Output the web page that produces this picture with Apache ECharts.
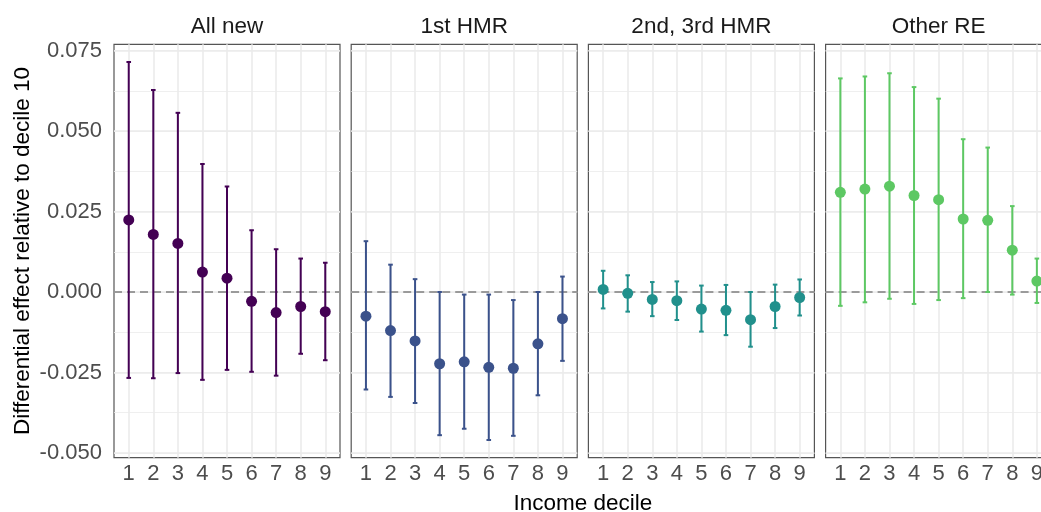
<!DOCTYPE html>
<html>
<head>
<meta charset="utf-8">
<script src="https://cdn.jsdelivr.net/npm/echarts@6/dist/echarts.min.js"></script>
<style>
html,body{margin:0;padding:0;background:#fff;}
#chart{width:1041px;height:512px;}
</style>
</head>
<body>
<div id="chart"></div>
<script>
const deciles = [1, 2, 3, 4, 5, 6, 7, 8, 9];
const panelNames = ['All new', '1st HMR', '2nd, 3rd HMR', 'Other RE'];
const panelColors = ['#440154', '#3B528B', '#21908C', '#5DC863'];

const allNewEst = [0.0224, 0.0179, 0.0151, 0.0062, 0.0043, -0.0029, -0.0064, -0.0045, -0.0061];
const allNewLo  = [-0.0267, -0.0268, -0.0252, -0.0273, -0.0242, -0.0248, -0.0260, -0.0192, -0.0212];
const allNewHi  = [0.0715, 0.0628, 0.0557, 0.0398, 0.0328, 0.0192, 0.0133, 0.0104, 0.0091];

const hmr1Est = [-0.0075, -0.0120, -0.0152, -0.0223, -0.0217, -0.0234, -0.0237, -0.0161, -0.0083];
const hmr1Lo  = [-0.0303, -0.0326, -0.0345, -0.0445, -0.0425, -0.0460, -0.0447, -0.0321, -0.0214];
const hmr1Hi  = [0.0158, 0.0085, 0.0040, 0.0000, -0.0008, -0.0008, -0.0025, 0.0000, 0.0048];

const hmr23Est = [0.0008, -0.0004, -0.0023, -0.0027, -0.0053, -0.0057, -0.0086, -0.0045, -0.0017];
const hmr23Lo  = [-0.0051, -0.0061, -0.0075, -0.0087, -0.0123, -0.0134, -0.0170, -0.0112, -0.0073];
const hmr23Hi  = [0.0066, 0.0052, 0.0031, 0.0033, 0.0020, 0.0022, 0.0000, 0.0023, 0.0039];

const otherEst = [0.0310, 0.0320, 0.0329, 0.0300, 0.0287, 0.0227, 0.0223, 0.0130, 0.0034];
const otherLo  = [-0.0043, -0.0032, -0.0021, -0.0037, -0.0025, -0.0019, 0.0000, -0.0008, -0.0034];
const otherHi  = [0.0664, 0.0670, 0.0680, 0.0637, 0.0601, 0.0475, 0.0449, 0.0267, 0.0104];

const yMajorStep = 0.025;
const yMinorStep = 0.0125;
const yTitle = 'Differential effect relative to decile 10';
const xTitle = 'Income decile';

const panelData = [
  [allNewEst, allNewLo, allNewHi],
  [hmr1Est, hmr1Lo, hmr1Hi],
  [hmr23Est, hmr23Lo, hmr23Hi],
  [otherEst, otherLo, otherHi]
];

const FONT = 'Liberation Sans, Arial, sans-serif';
const GRID_LEFT0 = 114, GRID_STEP = 237.2, GRID_W = 226, GRID_TOP = 44.3, GRID_H = 413.4;
const Y_MIN = -0.0515, Y_MAX = 0.0770;
const GRID_LINE = '#EBEBEB';

const grids = [], xAxes = [], yAxes = [], series = [], titles = [];

panelNames.forEach((name, i) => {
  const left = GRID_LEFT0 + i * GRID_STEP;
  grids.push({
    left: left, top: GRID_TOP, width: GRID_W, height: GRID_H,
    show: true, borderColor: '#555555', borderWidth: 1.2, backgroundColor: 'transparent',
    containLabel: false, outerBoundsMode: 'none'
  });
  xAxes.push({
    type: 'value', gridIndex: i, min: 0.4, max: 9.6,
    minInterval: 1, maxInterval: 1,
    axisLine: { show: false }, axisTick: { show: false },
    axisLabel: {
      show: true, showMinLabel: false, showMaxLabel: false,
      color: '#4D4D4D', fontFamily: FONT, fontSize: 22, margin: 5,
      formatter: v => String(Math.round(v))
    },
    splitLine: { show: true, showMinLine: false, showMaxLine: false, lineStyle: { color: GRID_LINE, width: 1.6 } }
  });
  yAxes.push({
    type: 'value', gridIndex: i, min: Y_MIN, max: Y_MAX,
    minInterval: yMajorStep, maxInterval: yMajorStep,
    axisLine: { show: false }, axisTick: { show: false },
    axisLabel: {
      show: i === 0, showMinLabel: false, showMaxLabel: false,
      color: '#4D4D4D', fontFamily: FONT, fontSize: 22, margin: 12,
      formatter: v => v.toFixed(3)
    },
    name: i === 0 ? yTitle : '',
    nameLocation: 'middle', nameGap: 80,
    nameTextStyle: { color: '#000', fontFamily: FONT, fontSize: 22.5 },
    splitLine: { show: true, showMinLine: false, showMaxLine: false, lineStyle: { color: GRID_LINE, width: 1.6 } },
    z: 1
  });
  yAxes.push({
    type: 'value', gridIndex: i, min: Y_MIN, max: Y_MAX, position: 'right',
    minInterval: yMinorStep, maxInterval: yMinorStep,
    axisLine: { show: false }, axisTick: { show: false }, axisLabel: { show: false },
    splitLine: { show: true, showMinLine: false, showMaxLine: false, lineStyle: { color: GRID_LINE, width: 0.8 } },
    z: 0
  });
  titles.push({
    text: name, left: left + GRID_W / 2, top: 15, textAlign: 'center', padding: 0,
    textStyle: { color: '#1A1A1A', fontFamily: FONT, fontSize: 22.5, fontWeight: 'normal' }
  });

  const [est, lo, hi] = panelData[i];
  const color = panelColors[i];
  const yIdx = i * 2;

  series.push({
    type: 'line', xAxisIndex: i, yAxisIndex: yIdx, data: [], z: 2, silent: true,
    markLine: {
      silent: true, symbol: ['none', 'none'], label: { show: false },
      lineStyle: { color: '#7F7F7F', type: [8, 5], width: 1.6 },
      emphasis: { disabled: true },
      data: [{ yAxis: 0 }]
    }
  });
  series.push({
    type: 'custom', xAxisIndex: i, yAxisIndex: yIdx, z: 10, silent: true,
    data: deciles.map((d, k) => [d, lo[k], hi[k]]),
    encode: { x: 0, y: [1, 2] },
    renderItem: (params, api) => {
      const x = api.value(0);
      const pLo = api.coord([x, api.value(1)]);
      const pHi = api.coord([x, api.value(2)]);
      const hw = 2.3;
      const style = { stroke: color, lineWidth: 2, fill: null };
      return {
        type: 'group',
        children: [
          { type: 'line', shape: { x1: pLo[0], y1: pLo[1], x2: pHi[0], y2: pHi[1] }, style: style },
          { type: 'line', shape: { x1: pLo[0] - hw, y1: pLo[1], x2: pLo[0] + hw, y2: pLo[1] }, style: style },
          { type: 'line', shape: { x1: pHi[0] - hw, y1: pHi[1], x2: pHi[0] + hw, y2: pHi[1] }, style: style }
        ]
      };
    }
  });
  series.push({
    type: 'scatter', xAxisIndex: i, yAxisIndex: yIdx, z: 11, silent: true,
    symbol: 'circle', symbolSize: 11,
    itemStyle: { color: color, opacity: 1 },
    data: deciles.map((d, k) => [d, est[k]])
  });
});

titles.push({
  text: xTitle, left: GRID_LEFT0 + (3 * GRID_STEP + GRID_W) / 2, top: 492, textAlign: 'center', padding: 0,
  textStyle: { color: '#000', fontFamily: FONT, fontSize: 22.5, fontWeight: 'normal' }
});

const chart = echarts.init(document.getElementById('chart'), null, { renderer: 'canvas' });
chart.setOption({
  backgroundColor: '#ffffff',
  animation: false,
  title: titles,
  grid: grids,
  xAxis: xAxes,
  yAxis: yAxes,
  series: series
});
</script>
</body>
</html>
